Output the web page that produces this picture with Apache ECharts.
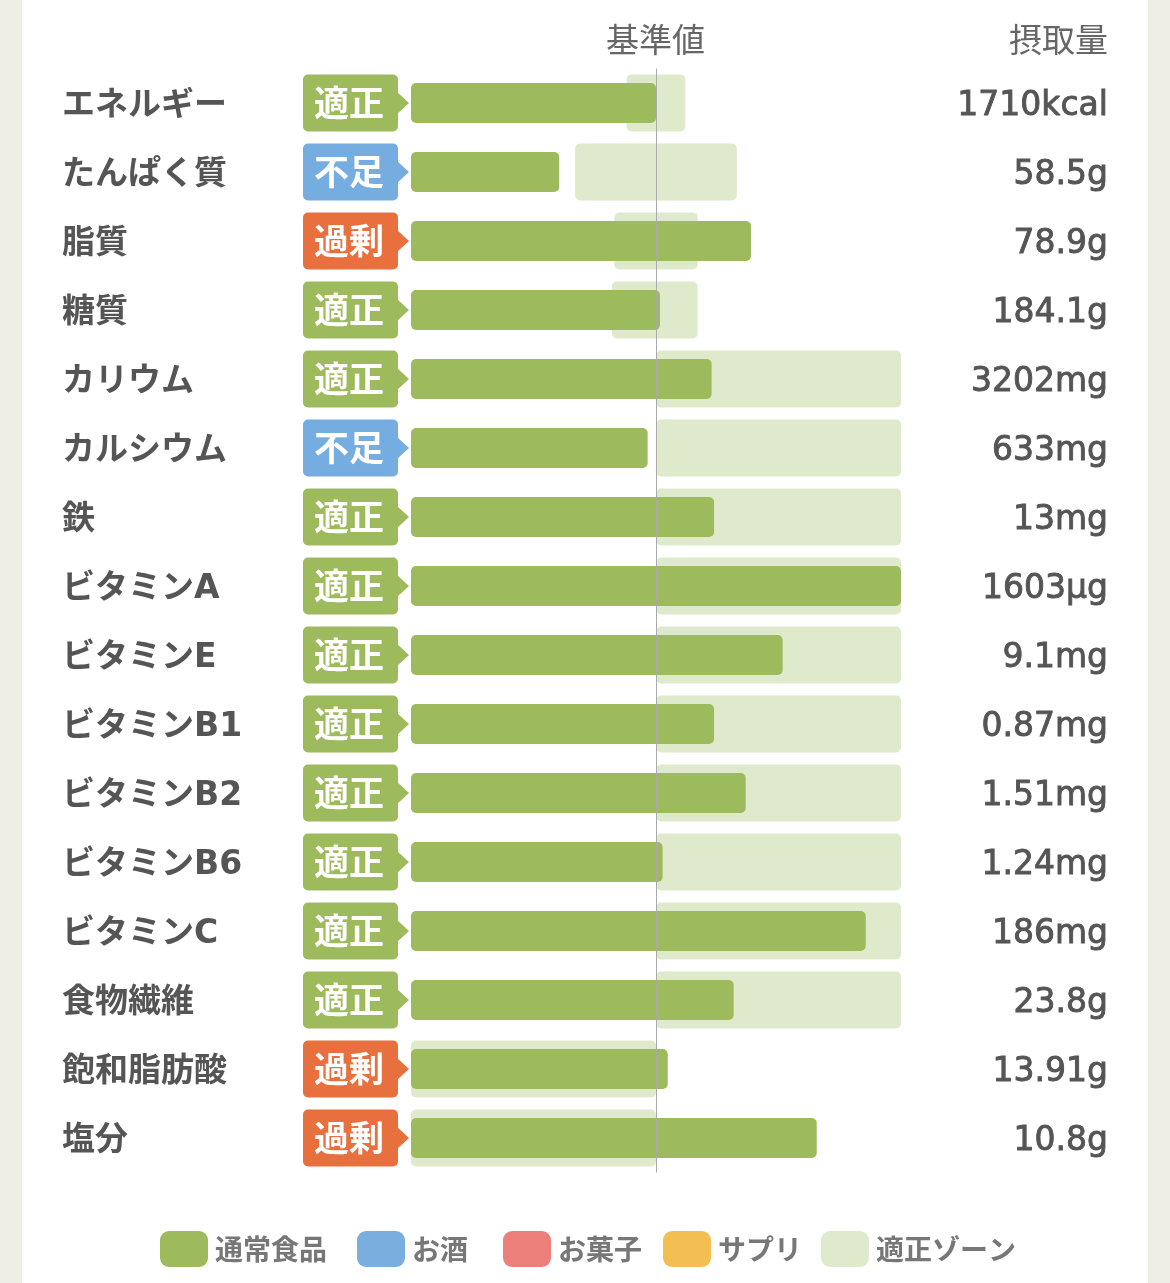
<!DOCTYPE html>
<html>
<head>
<meta charset="utf-8">
<script src="https://cdn.jsdelivr.net/npm/echarts@6/dist/echarts.min.js"></script>
<style>
  html, body { margin: 0; padding: 0; background: #eeede6; }
  #card { position: absolute; left: 22px; top: 0; width: 1126px; height: 1283px; background: #fff; }
  #nutrition-chart { position: absolute; left: 0; top: 0; width: 1170px; height: 1283px; }
</style>
</head>
<body>
<div id="card"></div>
<div id="nutrition-chart"></div>
<script>
// 栄養素ごとのデータ（基準値=100%）
var nutrients = ['エネルギー', 'たんぱく質', '脂質', '糖質', 'カリウム', 'カルシウム', '鉄', 'ビタミンA',
  'ビタミンE', 'ビタミンB1', 'ビタミンB2', 'ビタミンB6', 'ビタミンC', '食物繊維', '飽和脂肪酸', '塩分'];
var judges = ['適正', '不足', '過剰', '適正', '適正', '不足', '適正', '適正',
  '適正', '適正', '適正', '適正', '適正', '適正', '過剰', '過剰'];
var ratio = [100, 60.5, 138.8, 101.6, 122.7, 96.6, 123.7, 200, 151.7, 123.7, 136.6, 102.7, 185.6, 131.7, 104.8, 165.6];
var zoneLow = [88, 67, 83, 82, 100, 100, 100, 100, 100, 100, 100, 100, 100, 100, 0, 0];
var zoneHigh = [112, 133, 117, 117, 200, 200, 200, 200, 200, 200, 200, 200, 200, 200, 100, 100];
var intake = ['1710kcal', '58.5g', '78.9g', '184.1g', '3202mg', '633mg', '13mg', '1603μg',
  '9.1mg', '0.87mg', '1.51mg', '1.24mg', '186mg', '23.8g', '13.91g', '10.8g'];
var legendNames = ['通常食品', 'お酒', 'お菓子', 'サプリ', '適正ゾーン'];

var judgeColor = { '適正': '#9dbb5d', '不足': '#76ade0', '過剰': '#e8703f' };
var font = '"Noto Sans CJK JP", sans-serif';
var labelFont = '"DejaVu Sans", "Noto Sans CJK JP", sans-serif';
var legendLeft = [160, 357, 503, 663, 821];

var chartDom = document.getElementById('nutrition-chart');
var myChart = echarts.init(chartDom);

var zoneData = zoneLow.map(function (lo, i) { return [lo, zoneHigh[i], i]; });
var badgeData = judges.map(function (s, i) { return [0, i]; });

var legends = legendNames.map(function (name, i) {
  return {
    data: [name],
    top: 1231,
    left: legendLeft[i],
    padding: 0,
    icon: 'roundRect',
    itemWidth: 48,
    itemHeight: 36,
    textStyle: { fontSize: 28, fontWeight: 'bold', color: '#777', fontFamily: font, padding: [0, 0, 0, 2] },
    selectedMode: false
  };
});

var option = {
  animation: false,
  grid: { left: 411, top: 68.5, width: 490, height: 1104 },
  xAxis: { type: 'value', min: 0, max: 200, show: false, splitLine: { show: false } },
  yAxis: [{
    type: 'category',
    data: nutrients,
    inverse: true,
    axisLine: { show: false },
    axisTick: { show: false },
    axisLabel: {
      align: 'left', margin: 349,
      formatter: function (v) { return '{n|' + v + '}'; },
      rich: { n: { fontSize: 33, fontWeight: 'bold', color: '#555', fontFamily: labelFont, padding: [7, 0, 0, 0] } }
    }
  }, {
    type: 'category',
    data: intake,
    inverse: true,
    position: 'right',
    axisLine: { show: false },
    axisTick: { show: false },
    axisLabel: {
      align: 'right', margin: 207,
      formatter: function (v) { return '{v|' + v + '}'; },
      rich: { v: { fontSize: 33, color: '#555', fontFamily: '"DejaVu Sans", sans-serif',
        textBorderColor: '#555', textBorderWidth: 0.9, padding: [7, 0, 0, 0] } }
    }
  }],
  legend: legends,
  graphic: [
    { type: 'text', left: 606, top: 23, style: { text: '基準値', fontSize: 33, fill: '#666', fontFamily: font } },
    { type: 'text', right: 62, top: 23, style: { text: '摂取量', fontSize: 33, fill: '#666', fontFamily: font } }
  ],
  series: [{
    name: '適正ゾーン',
    type: 'custom',
    itemStyle: { color: '#dfe9cc' },
    encode: { x: [0, 1], y: 2 },
    data: zoneData,
    renderItem: function (params, api) {
      var p0 = api.coord([api.value(0), api.value(2)]);
      var p1 = api.coord([api.value(1), api.value(2)]);
      return {
        type: 'rect',
        shape: { x: p0[0], y: p0[1] - 28.5, width: p1[0] - p0[0], height: 57, r: 5 },
        style: { fill: '#dfe9cc' }
      };
    },
    z: 1
  }, {
    name: '通常食品',
    type: 'bar',
    data: ratio,
    barWidth: 40,
    itemStyle: { color: '#9dbb5d', borderRadius: 5 },
    z: 2,
    markLine: {
      silent: true,
      symbol: 'none',
      label: { show: false },
      lineStyle: { color: '#aaa', width: 1, type: 'solid' },
      data: [{ xAxis: 100 }]
    }
  }, {
    name: 'judge',
    type: 'custom',
    data: badgeData,
    encode: { x: 0, y: 1 },
    renderItem: function (params, api) {
      var cy = api.coord([0, api.value(1)])[1];
      var s = judges[params.dataIndex];
      var c = judgeColor[s];
      return {
        type: 'group',
        children: [{
          type: 'rect',
          shape: { x: 303, y: cy - 28.5, width: 95, height: 57, r: 5 },
          style: { fill: c }
        }, {
          type: 'polygon',
          shape: { points: [[396, cy - 12], [409, cy], [396, cy + 12]] },
          style: { fill: c }
        }, {
          type: 'text',
          style: { text: s, x: 349, y: cy, align: 'center', verticalAlign: 'middle',
            fontSize: 35, fontWeight: 'bold', fill: '#fff', fontFamily: font }
        }]
      };
    },
    z: 3
  },
  { name: 'お酒', type: 'scatter', data: [], itemStyle: { color: '#7aaedf', opacity: 1 } },
  { name: 'お菓子', type: 'scatter', data: [], itemStyle: { color: '#ec7f7a', opacity: 1 } },
  { name: 'サプリ', type: 'scatter', data: [], itemStyle: { color: '#f3bf52', opacity: 1 } }
  ]
};

option && myChart.setOption(option);
</script>
</body>
</html>
